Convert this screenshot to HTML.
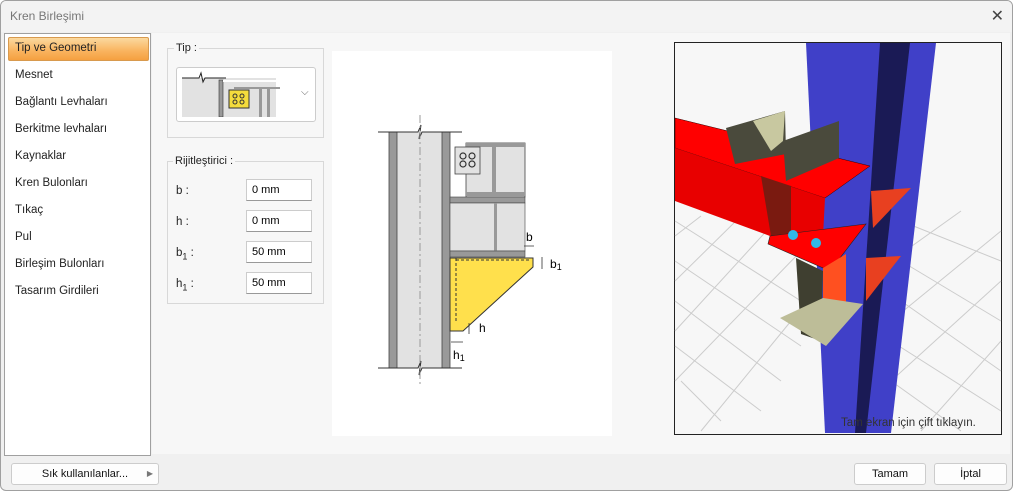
<!DOCTYPE html>
<html><head><meta charset="utf-8"><style>
body{margin:0;width:1013px;height:491px;overflow:hidden;background:#fff;font-family:"Liberation Sans",sans-serif;}
.win{position:absolute;left:0;top:0;width:1011px;height:489px;border:1px solid #a0a0a0;border-radius:6px;background:#f0f0f0;overflow:hidden}
.title{position:absolute;left:0;top:0;width:1011px;height:31px;background:#f3f3f3;}
.ttl{position:absolute;left:9px;top:8px;font-size:12px;color:#777}
.close{position:absolute;right:8px;top:5px;font-size:16px;color:#444}
.side{position:absolute;left:3px;top:32px;width:145px;height:421px;background:#fff;border:1px solid #a0a0a0}
.item{position:absolute;left:10px;font-size:11.5px;color:#222}
.sel{position:absolute;left:3px;top:3px;width:139px;height:22px;background:linear-gradient(#fbd9a0,#f9b35e 60%,#f5a040);border:1px solid #d89a4e;border-radius:2px}
.main{position:absolute;left:151px;top:32px;width:858px;height:421px;background:#f7f7f7}
.grp{position:absolute;border:1px solid #d8d8d8}
.gl{position:absolute;font-size:11px;background:#f7f7f7;padding:0 2px;color:#222}
.inp{position:absolute;left:245px;width:66px;height:22px;background:#fff;border:1px solid #ccc;border-bottom:1px solid #999;font-size:11px;line-height:20px;padding-left:5px;box-sizing:border-box}
.lab{position:absolute;left:175px;font-size:11.5px;color:#222}
.btn{position:absolute;top:462px;height:20px;background:#fdfdfd;border:1px solid #ccc;border-radius:3px;font-size:11px;text-align:center;line-height:20px;color:#111}
</style></head><body>
<div class="win">
<div class="title"><span class="ttl">Kren Birleşimi</span><span class="close">✕</span></div>
<div class="side">
<div class="sel"></div>
<div class="item" style="top:8px">Tip ve Geometri</div>
<div class="item" style="top:35px">Mesnet</div>
<div class="item" style="top:62px">Bağlantı Levhaları</div>
<div class="item" style="top:89px">Berkitme levhaları</div>
<div class="item" style="top:116px">Kaynaklar</div>
<div class="item" style="top:143px">Kren Bulonları</div>
<div class="item" style="top:170px">Tıkaç</div>
<div class="item" style="top:197px">Pul</div>
<div class="item" style="top:224px">Birleşim Bulonları</div>
<div class="item" style="top:251px">Tasarım Girdileri</div>
</div>
<div class="main"></div>
<div class="grp" style="left:166px;top:47px;width:155px;height:88px"></div>
<div class="gl" style="left:173px;top:41px">Tip :</div>
<div style="position:absolute;left:175px;top:66px;width:138px;height:53px;background:#fff;border:1px solid #ccc;border-radius:3px"></div>
<svg style="position:absolute;left:180px;top:70px" width="100" height="46">
<rect x="1" y="7" width="94" height="39" fill="#e2e2e2"/>
<path d="M1 7 H18 L20 2 L22 11 L24 7 H45" stroke="#222" fill="none"/>
<rect x="38" y="9" width="4" height="37" fill="#999" stroke="#333" stroke-width=".6"/>
<rect x="42" y="9" width="55" height="2" fill="#fff"/>
<rect x="53" y="16" width="46" height="2" fill="#999"/>
<rect x="78" y="18" width="3" height="28" fill="#999"/>
<rect x="86" y="18" width="3" height="28" fill="#999"/>
<rect x="48" y="19" width="20" height="18" fill="#f4dc3c" stroke="#333"/>
<circle cx="54" cy="25" r="2" fill="none" stroke="#333"/><circle cx="61" cy="25" r="2" fill="none" stroke="#333"/>
<circle cx="54" cy="31" r="2" fill="none" stroke="#333"/><circle cx="61" cy="31" r="2" fill="none" stroke="#333"/>
</svg>
<div style="position:absolute;left:300px;top:86px;font-size:10px;color:#666">⌵</div>
<div class="grp" style="left:166px;top:160px;width:155px;height:141px"></div>
<div class="gl" style="left:172px;top:154px">Rijitleştirici :</div>
<div class="lab" style="top:184px">b :</div><div class="inp" style="top:178px">0 mm</div>
<div class="lab" style="top:215px">h :</div><div class="inp" style="top:209px">0 mm</div>
<div class="lab" style="top:246px">b<sub style="font-size:9px">1</sub> :</div><div class="inp" style="top:240px">50 mm</div>
<div class="lab" style="top:277px">h<sub style="font-size:9px">1</sub> :</div><div class="inp" style="top:271px">50 mm</div>
<svg style="position:absolute;left:331px;top:50px" width="280" height="385" viewBox="331 50 280 385">
<rect x="331" y="50" width="280" height="385" fill="#fff"/>
<rect x="388" y="131" width="61" height="236" fill="#e2e2e2"/>
<rect x="388" y="131" width="8" height="236" fill="#999" stroke="#444" stroke-width=".8"/>
<rect x="441" y="131" width="8" height="236" fill="#999" stroke="#444" stroke-width=".8"/>
<path d="M377 131 H417 L420 124 L418 138 L421 131 H461" stroke="#333" fill="none"/>
<path d="M377 367 H417 L420 360 L418 374 L421 367 H461" stroke="#333" fill="none"/>
<line x1="419" y1="114" x2="419" y2="385" stroke="#999" stroke-dasharray="8 3 2 3"/>
<rect x="465" y="142" width="59" height="54" fill="#e2e2e2" stroke="#444" stroke-width=".8"/>
<rect x="465" y="142" width="59" height="4" fill="#999"/>
<rect x="465" y="191" width="59" height="4" fill="#999"/>
<rect x="491" y="146" width="4" height="45" fill="#999"/>
<rect x="449" y="196" width="75" height="6" fill="#999" stroke="#444" stroke-width=".6"/>
<rect x="449" y="202" width="75" height="48" fill="#e2e2e2" stroke="#444" stroke-width=".6"/>
<rect x="493" y="202" width="3" height="48" fill="#999"/>
<rect x="449" y="250" width="75" height="6" fill="#999" stroke="#444" stroke-width=".6"/>
<rect x="454" y="146" width="25" height="27" fill="#e2e2e2" stroke="#444" stroke-width=".8"/>
<circle cx="462" cy="155" r="3" fill="none" stroke="#333" stroke-width="1.2"/><circle cx="471" cy="155" r="3" fill="none" stroke="#333" stroke-width="1.2"/>
<circle cx="462" cy="163" r="3" fill="none" stroke="#333" stroke-width="1.2"/><circle cx="471" cy="163" r="3" fill="none" stroke="#333" stroke-width="1.2"/>
<path d="M449 257 H532 V266 L462 330 H449 Z" fill="#ffe04c" stroke="#333"/>
<path d="M455 257 V322 M455 259 H530" stroke="#333" stroke-dasharray="3 2" fill="none"/>
<text x="525" y="240" font-size="12">b</text>
<text x="549" y="267" font-size="12">b<tspan font-size="9" dy="2">1</tspan></text>
<text x="478" y="331" font-size="12">h</text>
<text x="452" y="358" font-size="12">h<tspan font-size="9" dy="2">1</tspan></text>
<path d="M541 256 V268 M468 322 V333 M450 341 H462 M523 245 H533" stroke="#333" stroke-width=".8"/>
</svg>
<svg style="position:absolute;left:673px;top:41px" width="328" height="393" viewBox="673 41 328 393">
<rect x="673" y="41" width="328" height="393" fill="#f7f7f7" stroke="#222" stroke-width="2"/>
<g stroke="#ccc" stroke-width="1">
<path d="M674 220 L800 300 M674 260 L800 345 M674 300 L780 380 M674 345 L760 410 M680 380 L720 420 M700 215 L674 235 M740 215 L674 280 M770 225 L674 330 M800 250 L674 380 M790 320 L700 430 M900 220 L1000 260 M900 260 L1000 320 M900 300 L1000 370 M890 340 L1000 410 M890 380 L960 430 M960 210 L890 260 M1000 230 L890 320 M1000 280 L890 380 M1000 340 L920 430"/>
</g>
<polygon points="805,42 935,42 890,432 824,432" fill="#4040c8"/>
<polygon points="879,42 909,42 865,432 854,432" fill="#1a1a55"/>
<polygon points="674,117 869,165 824,197 674,147" fill="#f00" stroke="#300" stroke-width=".5"/>
<polygon points="674,147 824,197 822,235 769,235 674,200" fill="#e80000"/>
<polygon points="760,175 790,185 790,232 770,235" fill="#7a1a10"/>
<polygon points="769,235 865,223 829,270 767,243" fill="#f00" stroke="#222" stroke-width=".6"/>
<polygon points="725,127 784,110 785,153 734,163" fill="#4a4a3c"/>
<polygon points="752,120 784,110 782,140 770,150" fill="#c8c8a0"/>
<polygon points="782,140 838,120 838,157 785,180" fill="#4a4a3c"/>
<polygon points="795,257 822,270 820,340 800,333" fill="#3f3f30"/>
<polygon points="822,267 845,253 845,320 822,330" fill="#ff5020"/>
<polygon points="779,317 822,297 862,303 825,345" fill="#bdbd98"/>
<polygon points="870,190 910,187 872,227" fill="#e84020"/>
<polygon points="865,257 900,255 865,300" fill="#e84020"/>
<circle cx="792" cy="234" r="5" fill="#30b8e8"/><circle cx="815" cy="242" r="5" fill="#30b8e8"/>
<text x="840" y="425" font-size="11.5" fill="#333">Tam ekran için çift tıklayın.</text>
</svg>
<div class="btn" style="left:10px;width:146px">Sık kullanılanlar...<span style="position:absolute;right:5px;font-size:8px;color:#777">▶</span></div>
<div class="btn" style="left:853px;width:70px">Tamam</div>
<div class="btn" style="left:933px;width:71px">İptal</div>
</div>
</body></html>
